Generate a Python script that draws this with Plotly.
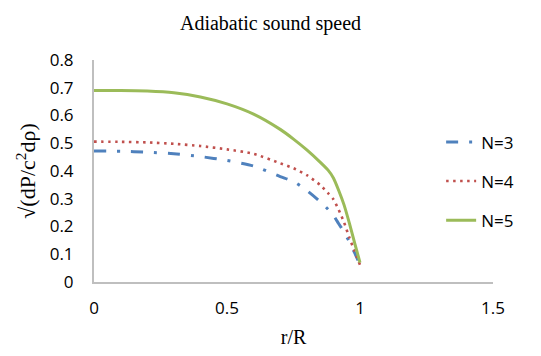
import plotly.graph_objects as go

# radial coordinate r/R
r = [0.0, 0.1, 0.2, 0.3, 0.4, 0.5, 0.6, 0.7, 0.75, 0.8, 0.85, 0.88, 0.9, 0.92, 0.94, 0.96, 0.98, 1.0]

# adiabatic sound speed for each polytropic index
n3 = [0.472, 0.471, 0.468, 0.462, 0.452, 0.438, 0.418, 0.38, 0.362, 0.33, 0.29, 0.262, 0.24, 0.21, 0.18, 0.145, 0.105, 0.062]
n4 = [0.506, 0.505, 0.503, 0.498, 0.49, 0.478, 0.462, 0.428, 0.41, 0.385, 0.35, 0.32, 0.298, 0.26, 0.215, 0.16, 0.11, 0.062]
n5 = [0.69, 0.69, 0.688, 0.682, 0.667, 0.642, 0.605, 0.55, 0.515, 0.476, 0.432, 0.403, 0.375, 0.33, 0.278, 0.212, 0.14, 0.07]

names = ["N=3", "N=4", "N=5"]
colors = ["#4F81BD", "#C0504D", "#9BBB59"]
dashes = ["12px,11px,3px,11px", "2.5px,4.5px", "solid"]
widths = [3, 2.6, 3]

fig = go.Figure()
for i, (ys, name) in enumerate(zip([n3, n4, n5], names)):
    fig.add_trace(go.Scatter(
        x=r, y=ys, name=name, mode="lines",
        line=dict(color=colors[i], dash=dashes[i], width=widths[i], shape="spline", smoothing=0.6),
        legendgroup=name,
    ))

serif = "Liberation Serif, Times New Roman, serif"
sans = "Open Sans, Liberation Sans, sans-serif"

fig.update_layout(
    width=541, height=356,
    margin=dict(l=94, r=48, t=60, b=74, autoexpand=False),
    paper_bgcolor="white", plot_bgcolor="white",
    title=dict(text="Adiabatic sound speed", x=0.5, xanchor="center", y=0.935, yanchor="middle",
               font=dict(family=serif, size=20, color="black")),
    font=dict(family=sans, color="black"),
    legend=dict(x=0.87, y=0.71, xanchor="left", yanchor="top", traceorder="grouped",
                tracegroupgap=14, font=dict(family=sans, size=17, color="black"),
                bgcolor="rgba(0,0,0,0)"),
    xaxis=dict(range=[0, 1.5], tickvals=[0, 0.5, 1, 1.5], ticktext=["0", "0.5", "1", "1.5"],
               showgrid=False, zeroline=False, showline=True, linecolor="#BFBFBF", linewidth=2,
               ticks="", ticklen=0, tickfont=dict(family=sans, size=17), ticklabelstandoff=10,
               title=dict(text="r/R", font=dict(family=serif, size=20), standoff=12)),
    yaxis=dict(range=[0, 0.8], tickvals=[0, 0.1, 0.2, 0.3, 0.4, 0.5, 0.6, 0.7, 0.8],
               ticktext=["0", "0.1", "0.2", "0.3", "0.4", "0.5", "0.6", "0.7", "0.8"],
               showgrid=False, zeroline=False, showline=True, linecolor="#BFBFBF", linewidth=2,
               ticks="", tickfont=dict(family=sans, size=17), ticklabelstandoff=15,
               title=dict(text="√(dP/c<sup>2</sup>dρ)", font=dict(family=serif, size=22), standoff=8)),
)

fig.write_html("out.html")
